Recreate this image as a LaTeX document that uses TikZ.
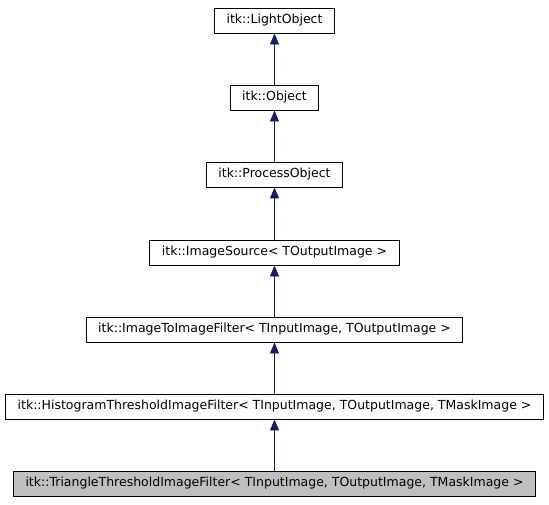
\documentclass[tikz,border=0pt]{standalone}
\usepackage{fontspec}
\setmainfont{DejaVu Sans}
\usetikzlibrary{arrows.meta}

\definecolor{edgeblue}{HTML}{191970}
\definecolor{curgray}{HTML}{BFBFBF}

\tikzset{
  cls/.style={draw=black, line width=0.8pt, fill=white, minimum height=25pt,
    inner xsep=12pt, inner ysep=0pt, font=\fontsize{12.5}{14}\selectfont},
  inh/.style={draw=edgeblue, line width=0.8pt,
    -{Triangle[length=11pt, width=9pt, fill=edgeblue]}}
}

\begin{document}
\begin{tikzpicture}[x=1pt, y=-1pt]

% cornice
\useasboundingbox (0,0) rectangle (549,504);

% classi
\node[cls] (lightobj) at (274.5,20.5) {itk::LightObject};
\node[cls, minimum width=85pt] (object) at (274.5,97.5) {itk::Object};
\node[cls] (procobj) at (274.5,174.5) {itk::ProcessObject};
\node[cls] (imgsrc) at (274.5,252.5) {itk::ImageSource< TOutputImage >};
\node[cls] (img2img) at (274.5,329.5) {itk::ImageToImageFilter< TInputImage, TOutputImage >};
\node[cls] (histthr) at (274.5,406.5) {itk::HistogramThresholdImageFilter< TInputImage, TOutputImage, TMaskImage >};
\node[cls, fill=curgray] (trithr) at (274.5,483.5) {itk::TriangleThresholdImageFilter< TInputImage, TOutputImage, TMaskImage >};

% ereditarieta
\draw[inh] (object) -- (lightobj);
\draw[inh] (procobj) -- (object);
\draw[inh] (imgsrc) -- (procobj);
\draw[inh] (img2img) -- (imgsrc);
\draw[inh] (histthr) -- (img2img);
\draw[inh] (trithr) -- (histthr);

\end{tikzpicture}
\end{document}
